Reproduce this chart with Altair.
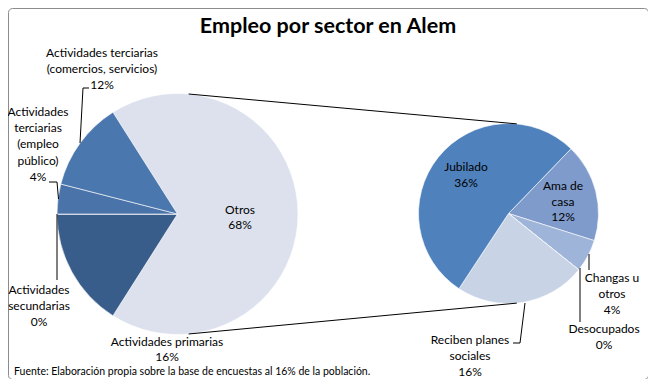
import math
import altair as alt
import pandas as pd

# ---------------- data ----------------
main_labels = ["Otros", "Actividades primarias", "Actividades secundarias",
               "Actividades terciarias (empleo público)",
               "Actividades terciarias (comercios, servicios)"]
main_values = [68, 16, 0, 4, 12]
main_colors = ["#DCE1ED", "#385D8A", "#3F679A", "#4A73A9", "#4B77AF"]

sub_labels = ["Ama de casa", "Changas u otros", "Desocupados",
              "Reciben planes sociales", "Jubilado"]
sub_values = [12, 4, 0, 16, 36]
sub_colors = ["#7E9BCB", "#9FB4D9", "#B4C4E0", "#C8D3E6", "#4F81BD"]

# wrapped display text of each label (value line is added from the data)
main_lines = [["Otros"], ["Actividades primarias"], ["Actividades", "secundarias"],
              ["Actividades", "terciarias", "(empleo", "público)"],
              ["Actividades terciarias", "(comercios, servicios)"]]
sub_lines = [["Ama de", "casa"], ["Changas u", "otros"], ["Desocupados"],
             ["Reciben planes", "sociales"], ["Jubilado"]]

title_text = "Empleo por sector en Alem"
source_text = "Fuente: Elaboración propia sobre la base de encuestas al 16%  de la población."

# ---------------- layout ----------------
W, H = 640, 371
OFF = 8  # page margin
L_CX, L_CY, L_R = 177.5 - OFF, 214 - OFF, 120.5
R_CX, R_CY, R_R = 508.5 - OFF, 213.5 - OFF, 90
R_START = math.radians(44)
FONT = "Lato"
FS = 12

# label anchors (center x, y of first line, line height) in page pixels
main_pos = [(240, 210, 15), (167, 342, 14.5), (39, 290, 16), (38, 112, 16.2),
            (102, 53, 16)]
sub_pos = [(563, 186, 15.5), (612, 278, 16), (604, 329, 16), (470, 340, 16),
           (466, 167, 16)]

main_total = sum(main_values)
sub_total = sum(sub_values)
# the "Otros" slice is centred on 3 o'clock
l_start = math.pi / 2 - math.pi * main_values[0] / main_total

main_df = pd.DataFrame({"cat": main_labels, "value": main_values,
                        "idx": range(len(main_labels))})
sub_df = pd.DataFrame({"cat": sub_labels, "value": sub_values,
                       "idx": range(len(sub_labels))})

left_pie = alt.Chart(main_df).mark_arc(
    outerRadius=L_R, stroke="white", strokeWidth=0.6
).encode(
    theta=alt.Theta("value:Q", stack=True,
                    scale=alt.Scale(domain=[0, main_total],
                                    range=[l_start, l_start + 2 * math.pi])),
    color=alt.Color("cat:N", scale=alt.Scale(domain=main_labels, range=main_colors),
                    legend=None),
    order=alt.Order("idx:Q"),
    x=alt.value(L_CX), y=alt.value(L_CY),
)

right_pie = alt.Chart(sub_df).mark_arc(
    outerRadius=R_R, stroke="white", strokeWidth=0.6
).encode(
    theta=alt.Theta("value:Q", stack=True,
                    scale=alt.Scale(domain=[0, sub_total],
                                    range=[R_START, R_START + 2 * math.pi])),
    color=alt.Color("cat:N", scale=alt.Scale(domain=sub_labels, range=sub_colors),
                    legend=None),
    order=alt.Order("idx:Q"),
    x=alt.value(R_CX), y=alt.value(R_CY),
)

# connector lines: outer common tangents of the two pies
d = R_CX - L_CX
phi = math.asin((L_R - R_R) / d)
segs = []
for sgn in (-1, 1):
    segs.append((L_CX + L_R * math.sin(phi), L_CY + sgn * L_R * math.cos(phi),
                 R_CX + R_R * math.sin(phi), R_CY + sgn * R_R * math.cos(phi)))

# leader lines (page pixels)
leaders = [
    (89, 88, 83, 88), (83, 88, 80, 143),
    (49, 182, 57, 182), (57, 182, 58.5, 199),
    (57, 214, 57, 280),
    (589, 254, 589, 270),
    (580, 268, 580, 322),
    (525, 303, 520, 343), (520, 343, 513, 343),
]
for x1, y1, x2, y2 in leaders:
    segs.append((x1 - OFF, y1 - OFF, x2 - OFF, y2 - OFF))
seg_df = pd.DataFrame(segs, columns=["x", "y", "x2", "y2"])

rules = alt.Chart(seg_df).mark_rule(color="black", strokeWidth=1).encode(
    x=alt.X("x:Q", scale=None, axis=None), y=alt.Y("y:Q", scale=None, axis=None),
    x2="x2:Q", y2="y2:Q",
)

# label rows
rows = []
for lines, val, (px, py, lh) in zip(main_lines + sub_lines, main_values + sub_values,
                                    main_pos + sub_pos):
    for k, t in enumerate(lines + [f"{val}%"]):
        rows.append({"t": t, "x": px - OFF, "y": py - OFF + k * lh})
lab_df = pd.DataFrame(rows)

labels = alt.Chart(lab_df).mark_text(
    font=FONT, fontSize=FS, color="black", baseline="middle", align="center"
).encode(
    x=alt.X("x:Q", scale=None, axis=None), y=alt.Y("y:Q", scale=None, axis=None),
    text="t:N",
)

title = alt.Chart(pd.DataFrame({"t": [title_text]})).mark_text(
    font=FONT, fontSize=21.5, fontWeight="bold", color="black",
    baseline="middle", align="center"
).encode(x=alt.value(328 - OFF), y=alt.value(27 - OFF), text="t:N")

source = alt.Chart(pd.DataFrame({"t": [source_text]})).mark_text(
    font=FONT, fontSize=10.5, color="black", baseline="middle", align="left"
).encode(x=alt.value(14 - OFF), y=alt.value(372 - OFF), text="t:N")

chart = alt.layer(left_pie, right_pie, rules, labels, title, source).resolve_scale(
    theta="independent", color="independent"
).properties(
    width=W, height=H, padding=0, autosize="none", background="white"
).configure_view(stroke="#8c8c8c", strokeWidth=1, cornerRadius=4)

chart.save("out.html", embed_options={"renderer": "svg", "actions": False})
